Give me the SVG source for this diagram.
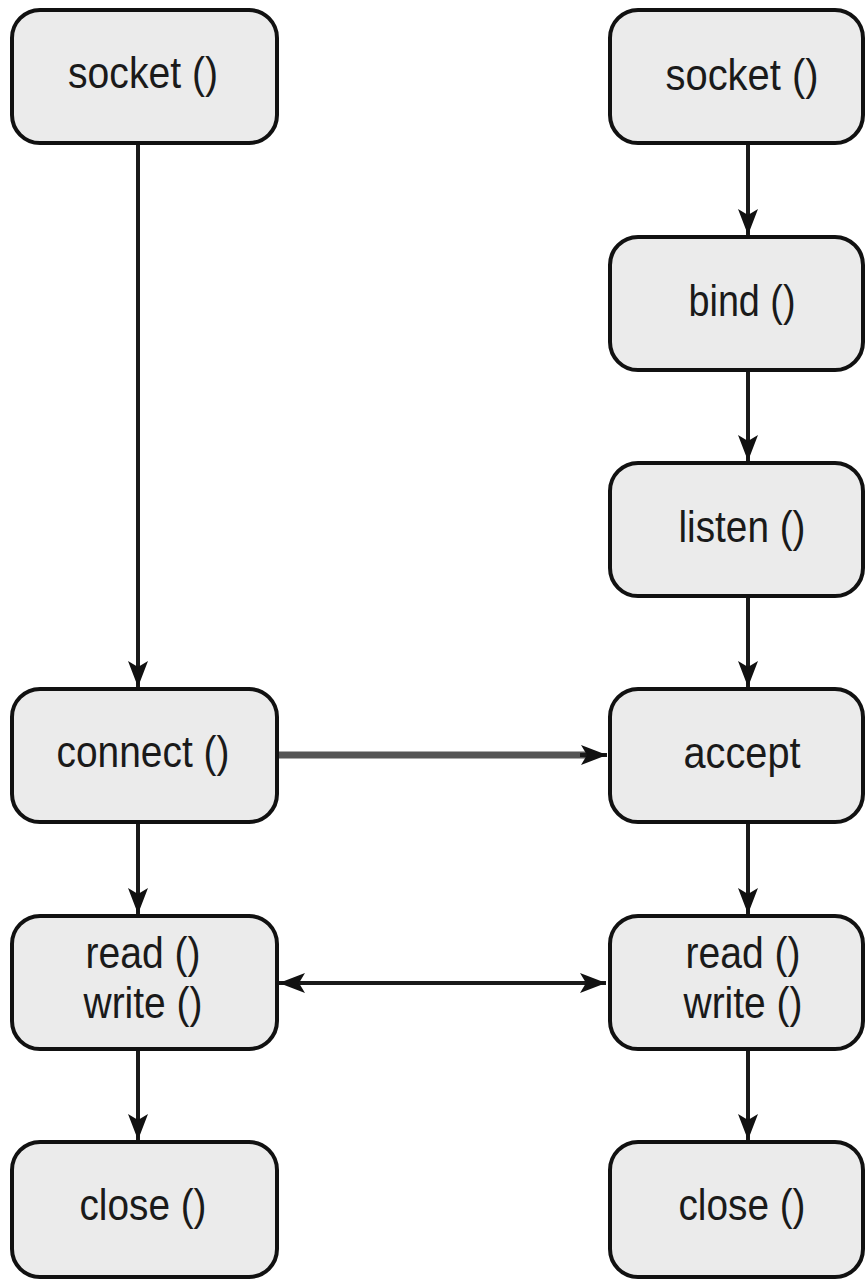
<svg xmlns="http://www.w3.org/2000/svg" width="865" height="1282" viewBox="0 0 865 1282">
<defs>
<style>
.box{fill:#ebebeb;stroke:#111;stroke-width:4}
.lbl{font-family:"Liberation Sans",Arial,sans-serif;font-size:44px;fill:#1a1a1a;text-anchor:middle}
.ln{stroke:#1a1a1a;stroke-width:4;fill:none}
.lnh{stroke:#555;stroke-width:7;fill:none}
</style>
<marker id="ah" markerUnits="userSpaceOnUse" markerWidth="30" markerHeight="24" refX="26" refY="12" orient="auto-start-reverse">
<path d="M0,2 L26,12 L0,22 L6,12 Z" fill="#111"/>
</marker>
</defs>
<rect width="865" height="1282" fill="#fff"/>
<g id="connectors">
<line class="ln" x1="138" y1="142" x2="138" y2="687" marker-end="url(#ah)"/>
<line class="ln" x1="748" y1="142" x2="748" y2="235" marker-end="url(#ah)"/>
<line class="ln" x1="748" y1="369" x2="748" y2="461" marker-end="url(#ah)"/>
<line class="ln" x1="748" y1="596" x2="748" y2="687" marker-end="url(#ah)"/>
<line class="lnh" x1="278" y1="755" x2="588" y2="755"/>
<line class="ln" x1="580" y1="755" x2="607" y2="755" marker-end="url(#ah)"/>
<line class="ln" x1="138" y1="822" x2="138" y2="914" marker-end="url(#ah)"/>
<line class="ln" x1="748" y1="822" x2="748" y2="914" marker-end="url(#ah)"/>
<line class="ln" x1="279" y1="983" x2="606" y2="983" marker-start="url(#ah)" marker-end="url(#ah)"/>
<line class="ln" x1="138" y1="1049" x2="138" y2="1140" marker-end="url(#ah)"/>
<line class="ln" x1="748" y1="1049" x2="748" y2="1140" marker-end="url(#ah)"/>
</g>
<g id="c-socket"><rect class="box" x="12" y="10" width="265" height="133" rx="28"/><text class="lbl" x="143" y="88" textLength="150" lengthAdjust="spacingAndGlyphs">socket ()</text></g>
<g id="c-connect"><rect class="box" x="12" y="689" width="265" height="133" rx="28"/><text class="lbl" x="143" y="767" textLength="173" lengthAdjust="spacingAndGlyphs">connect ()</text></g>
<g id="c-rw"><rect class="box" x="12" y="916" width="265" height="133" rx="28"/><text class="lbl" x="143" y="968" textLength="115" lengthAdjust="spacingAndGlyphs">read ()</text><text class="lbl" x="143" y="1018" textLength="119" lengthAdjust="spacingAndGlyphs">write ()</text></g>
<g id="c-close"><rect class="box" x="12" y="1142" width="265" height="135" rx="28"/><text class="lbl" x="143" y="1220" textLength="127" lengthAdjust="spacingAndGlyphs">close ()</text></g>
<g id="s-socket"><rect class="box" x="610" y="10" width="253" height="133" rx="28"/><text class="lbl" x="742" y="90" textLength="153" lengthAdjust="spacingAndGlyphs">socket ()</text></g>
<g id="s-bind"><rect class="box" x="610" y="237" width="253" height="133" rx="28"/><text class="lbl" x="742" y="316" textLength="107" lengthAdjust="spacingAndGlyphs">bind ()</text></g>
<g id="s-listen"><rect class="box" x="610" y="463" width="253" height="133" rx="28"/><text class="lbl" x="742" y="542" textLength="127" lengthAdjust="spacingAndGlyphs">listen ()</text></g>
<g id="s-accept"><rect class="box" x="610" y="689" width="253" height="133" rx="28"/><text class="lbl" x="742" y="768" textLength="117" lengthAdjust="spacingAndGlyphs">accept</text></g>
<g id="s-rw"><rect class="box" x="610" y="916" width="253" height="133" rx="28"/><text class="lbl" x="743" y="968" textLength="115" lengthAdjust="spacingAndGlyphs">read ()</text><text class="lbl" x="743" y="1018" textLength="119" lengthAdjust="spacingAndGlyphs">write ()</text></g>
<g id="s-close"><rect class="box" x="610" y="1142" width="253" height="135" rx="28"/><text class="lbl" x="742" y="1220" textLength="127" lengthAdjust="spacingAndGlyphs">close ()</text></g>
</svg>
